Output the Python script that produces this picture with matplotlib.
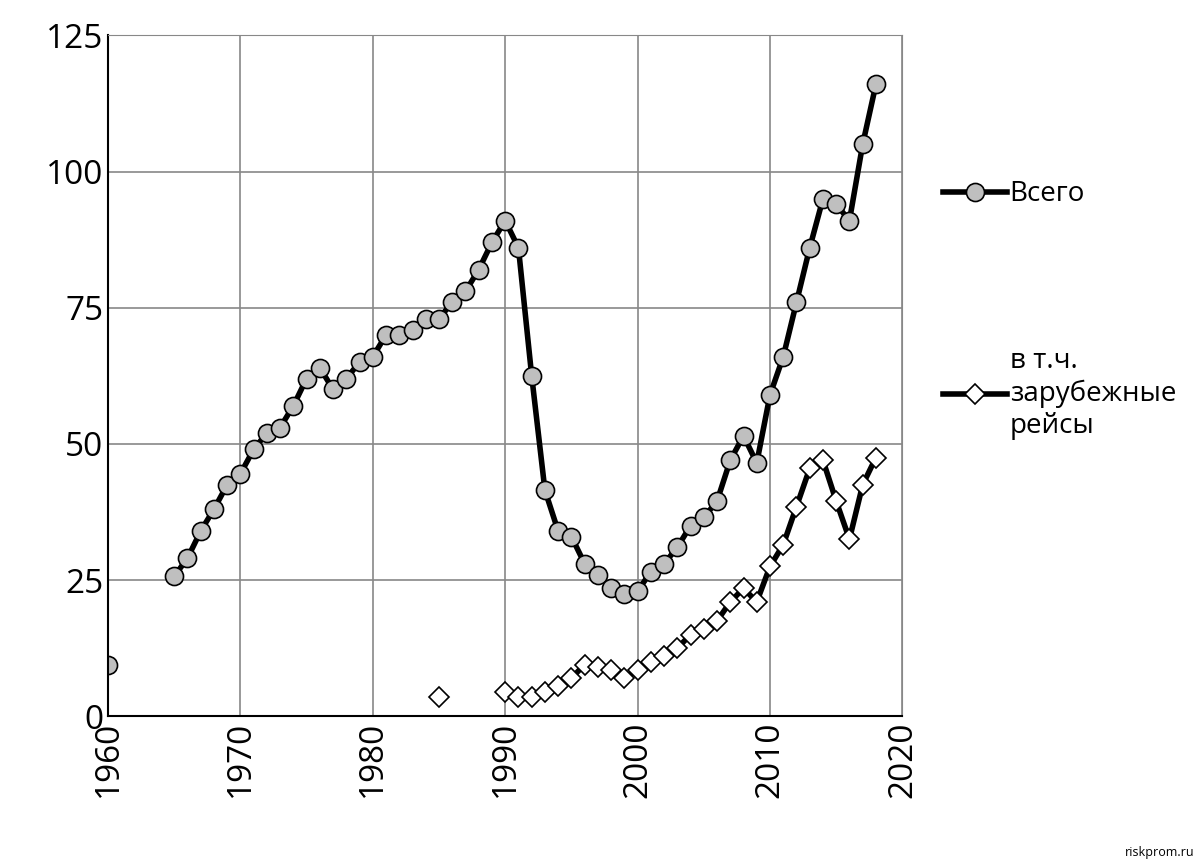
import numpy as np
import matplotlib
matplotlib.use("Agg")
import matplotlib.pyplot as plt

plt.rcParams['font.family'] = ['Open Sans', 'DejaVu Sans']
nan = np.nan
years = list(range(1960, 2019))
total = [9.5, nan, nan, nan, nan, 25.7, 29, 34, 38, 42.5, 44.5, 49, 52, 53, 57, 62, 64, 60, 62, 65,
         66, 70, 70, 71, 73, 73, 76, 78, 82, 87, 91, 86, 62.5, 41.5, 34, 33, 28, 26, 23.5, 22.5,
         23, 26.5, 28, 31, 35, 36.5, 39.5, 47, 51.5, 46.5, 59, 66, 76, 86, 95, 94, 91, 105, 116]
foreign = [nan]*25 + [3.5, nan, nan, nan, nan, 4.5, 3.5, 3.5, 4.5, 5.5, 7, 9.5, 9, 8.5, 7,
           8.5, 10, 11, 12.5, 15, 16, 17.5, 21, 23.5, 21, 27.5, 31.5, 38.5, 45.5, 47, 39.5, 32.5, 42.5, 47.5]

fig = plt.figure(figsize=(12, 8.63), dpi=100)
ax = fig.add_axes([0.09, 0.170, 0.662, 0.789])
ax.plot(years, total, color='black', lw=4, marker='o', ms=13, mfc='#bfbfbf', mec='black', mew=1.2, label='Всего')
ax.plot(years, foreign, color='black', lw=4, marker='D', ms=10, mfc='white', mec='black', mew=1.2,
        label='в т.ч.\nзарубежные\nрейсы')
ax.set_xlim(1960, 2020)
ax.set_ylim(0, 125)
ax.set_xticks(range(1960, 2021, 10))
ax.set_yticks(range(0, 126, 25))
ax.grid(True, color='#888888', lw=1.2)
ax.tick_params(axis='both', labelsize=24, length=0)
ax.tick_params(axis='x', labelrotation=90)
for s in ['top', 'right']:
    ax.spines[s].set_color('#888888')
for s in ['left', 'bottom']:
    ax.spines[s].set_color('black'); ax.spines[s].set_linewidth(1.5)
ax.set_axisbelow(True)
fig.legend(loc='upper left', bbox_to_anchor=(0.765, 0.82), frameon=False, fontsize=20,
           labelspacing=5, handlelength=2.3, handletextpad=0.1)
fig.text(0.995, 0.005, 'riskprom.ru', ha='right', va='bottom', fontsize=9)
fig.savefig('out.png')
